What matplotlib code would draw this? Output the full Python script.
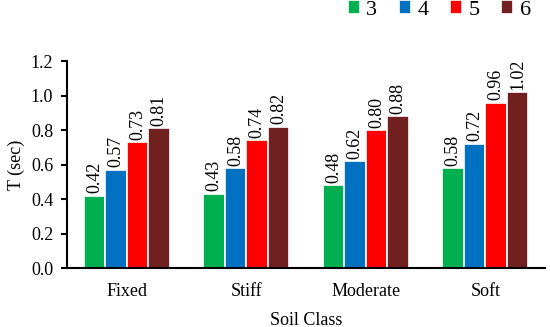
import numpy as np
import matplotlib.pyplot as plt

plt.rcParams['font.family'] = ['Liberation Serif', 'DejaVu Serif']

classes = ['Fixed', 'Stiff', 'Moderate', 'Soft']
stories = ['3', '4', '5', '6']
T3 = [0.42, 0.43, 0.48, 0.58]
T4 = [0.57, 0.58, 0.62, 0.72]
T5 = [0.73, 0.74, 0.80, 0.96]
T6 = [0.81, 0.82, 0.88, 1.02]
colors = ['#00b050', '#0070c0', '#ff0000', '#70201e']

fig = plt.figure(figsize=(5.5, 3.27), dpi=100)
ax = fig.add_axes([0.122, 0.180, 0.869, 0.633])

x = np.arange(len(classes))
w = 0.18
for i, vals in enumerate([T3, T4, T5, T6]):
    pos = x + (i - 1.5) * w
    bars = ax.bar(pos, vals, w, color=colors[i], edgecolor='white', linewidth=1.2, label=stories[i])
    for xb, v in zip(pos, vals):
        ax.text(xb, v + 0.015, '{:.2f}'.format(v), rotation=90, ha='center', va='bottom', fontsize=13)

ax.set_xlim(-0.5, 3.5)
ax.set_ylim(0, 1.2)
ax.set_yticks(np.arange(0, 1.21, 0.2))
ax.set_yticklabels(['{:.1f}'.format(t) for t in np.arange(0, 1.21, 0.2)])
ax.set_xticks(x)
ax.set_xticklabels(classes)
ax.tick_params(axis='x', length=0, pad=11, labelsize=13)
ax.tick_params(axis='y', direction='out', length=4, width=1.5, labelsize=13, pad=6)
ax.spines['top'].set_visible(False)
ax.spines['right'].set_visible(False)
ax.spines['left'].set_linewidth(1.5)
ax.spines['bottom'].set_linewidth(1.5)
ax.set_xlabel('Soil Class', fontsize=13, labelpad=8)
ax.set_ylabel('T (sec)', fontsize=13)

ax.legend(loc='upper right', bbox_to_anchor=(1.012, 1.39), ncol=4, frameon=False,
          fontsize=16, handlelength=0.55, handleheight=0.55, handletextpad=0.3, columnspacing=0.95)

fig.savefig('out.png')
